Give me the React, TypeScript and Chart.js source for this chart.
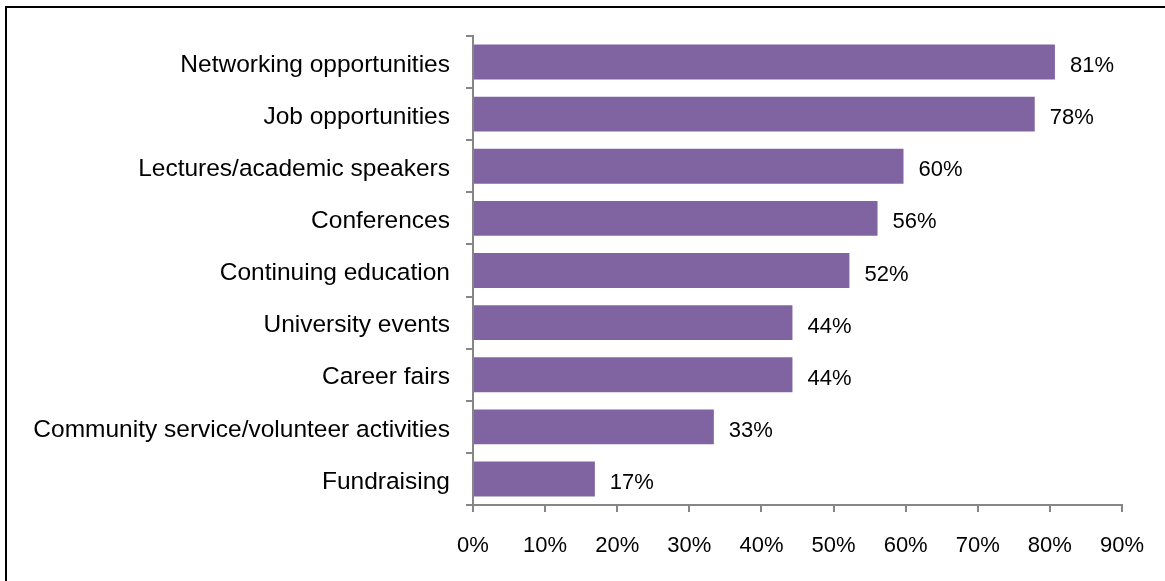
import React, { useEffect, useRef } from "react";
import { Chart, registerables } from "chart.js";

Chart.register(...registerables);

const categories = [
  "Networking opportunities",
  "Job opportunities",
  "Lectures/academic speakers",
  "Conferences",
  "Continuing education",
  "University events",
  "Career fairs",
  "Community service/volunteer activities",
  "Fundraising",
];
const values = [80.7, 77.9, 59.7, 56.1, 52.2, 44.3, 44.3, 33.4, 16.9];
const valueLabels = ["81%", "78%", "60%", "56%", "52%", "44%", "44%", "33%", "17%"];

const FONT = "'Liberation Sans', Arial, sans-serif";

const labelPlugin = {
  id: "barLabels",
  afterDatasetsDraw(chart: any) {
    const ctx = chart.ctx;
    const meta = chart.getDatasetMeta(0);
    ctx.save();
    ctx.font = `22px ${FONT}`;
    ctx.fillStyle = "#000";
    ctx.textAlign = "left";
    ctx.textBaseline = "middle";
    meta.data.forEach((bar: any, i: number) => {
      ctx.fillText(valueLabels[i], bar.x + 15, bar.y + 4);
    });
    ctx.restore();
  },
};

export default function App() {
  const ref = useRef<HTMLCanvasElement>(null);
  useEffect(() => {
    if (!ref.current) return;
    const chart = new Chart(ref.current, {
      type: "bar",
      data: {
        labels: categories,
        datasets: [
          {
            data: values,
            backgroundColor: "#8064A2",
            borderWidth: 0,
            categoryPercentage: 1,
            barPercentage: 0.67,
          },
        ],
      },
      options: {
        indexAxis: "y",
        animation: false,
        responsive: false,
        maintainAspectRatio: false,
        layout: { padding: { left: 0, right: 40, top: 36, bottom: 0 } },
        plugins: { legend: { display: false }, tooltip: { enabled: false } },
        scales: {
          x: {
            min: 0,
            max: 90,
            afterFit: (s: any) => {
              s.height = 76;
            },
            ticks: {
              stepSize: 10,
              color: "#000",
              font: { family: FONT, size: 22 },
              padding: 21,
              maxRotation: 0,
              callback: (v: any) => `${v}%`,
            },
            grid: {
              drawOnChartArea: false,
              drawTicks: true,
              tickLength: 7,
              color: "#868686",
              lineWidth: 2,
            },
            border: { display: true, color: "#868686", width: 2 },
          },
          y: {
            afterFit: (s: any) => {
              s.width = 473;
            },
            ticks: {
              color: "#000",
              font: { family: FONT, size: 24.5 },
              padding: 16,
              labelOffset: 3,
            },
            grid: {
              drawOnChartArea: false,
              drawTicks: true,
              tickLength: 7,
              color: "#868686",
              lineWidth: 2,
              offset: true,
            },
            border: { display: true, color: "#868686", width: 2 },
          },
        },
      },
      plugins: [labelPlugin],
    });
    return () => chart.destroy();
  }, []);

  return (
    <div
      style={{
        position: "fixed",
        left: 0,
        top: 0,
        width: 1165,
        height: 581,
        overflow: "hidden",
        background: "#fff",
      }}
    >
      <div
        style={{
          position: "absolute",
          left: 5,
          top: 6,
          width: 1200,
          height: 620,
          border: "2px solid #000",
          boxSizing: "border-box",
        }}
      />
      <canvas
        ref={ref}
        width={1165}
        height={581}
        style={{ position: "absolute", left: 0, top: 0, width: 1165, height: 581 }}
      />
    </div>
  );
}
